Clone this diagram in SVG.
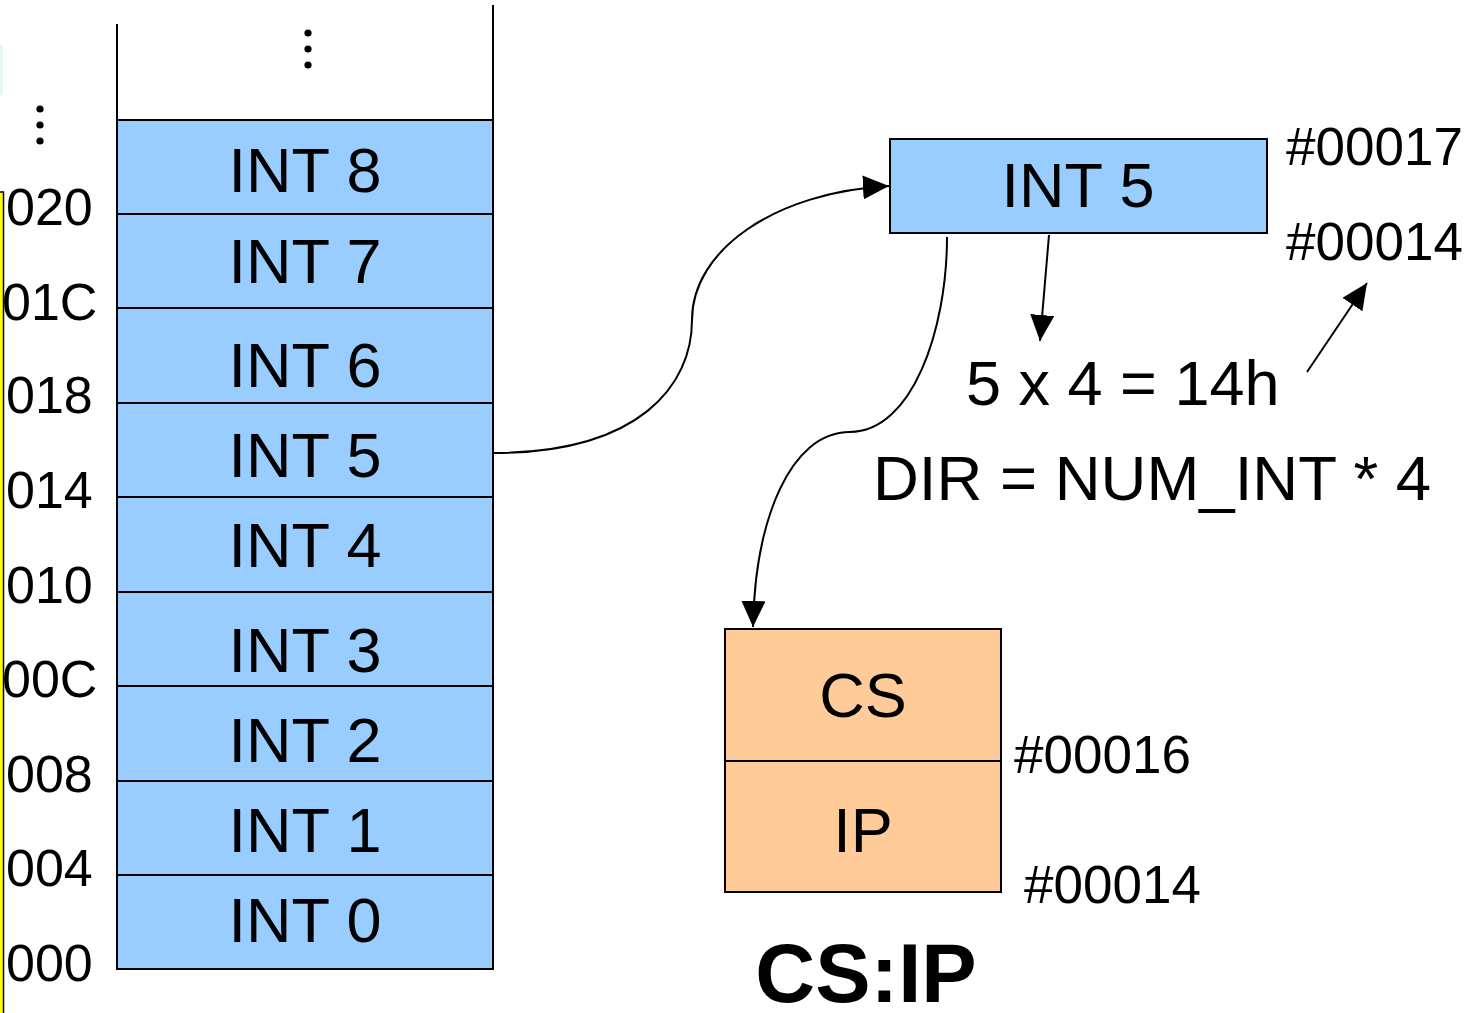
<svg xmlns="http://www.w3.org/2000/svg" width="1479" height="1013" viewBox="0 0 1479 1013">
  <defs>
    <style>
      .txt { font-family: "Liberation Sans", Arial, sans-serif; fill: #000; }
      .cell { fill: #99CCFF; stroke: #000; stroke-width: 2; }
      .reg { fill: #FFCC99; stroke: #000; stroke-width: 2; }
      .big { font-size: 63px; text-anchor: middle; }
      .addr { font-size: 52px; }
      .hex { font-size: 53px; }
      .wire { fill: none; stroke: #000; stroke-width: 2; }
    </style>
    <marker id="arrow" viewBox="0 0 26 24" refX="26" refY="12" markerWidth="26" markerHeight="24" markerUnits="userSpaceOnUse" orient="auto">
      <path d="M0,0 L26,12 L0,24 Z" fill="#000"/>
    </marker>
  </defs>

  <rect width="1479" height="1013" fill="#fff"/>

  <!-- edge strip on the left -->
  <rect x="0" y="45" width="3" height="50" fill="#eaf6f6"/>
  <rect x="-3" y="192" width="6.5" height="830" fill="#FFFF00" stroke="#000" stroke-width="1.5"/>

  <!-- address column -->
  <g id="addresses">
    <circle cx="40" cy="109" r="3.6"/>
    <circle cx="40" cy="125" r="3.6"/>
    <circle cx="40" cy="141" r="3.6"/>
    <text class="txt addr" x="6" y="225">020</text>
    <text class="txt addr" x="2" y="320">01C</text>
    <text class="txt addr" x="6" y="413">018</text>
    <text class="txt addr" x="6" y="508">014</text>
    <text class="txt addr" x="6" y="603">010</text>
    <text class="txt addr" x="2" y="697">00C</text>
    <text class="txt addr" x="6" y="792">008</text>
    <text class="txt addr" x="6" y="886">004</text>
    <text class="txt addr" x="6" y="981">000</text>
  </g>

  <!-- interrupt vector table -->
  <g id="vector-table">
    <line x1="117" y1="24" x2="117" y2="120" stroke="#000" stroke-width="2"/>
    <line x1="493" y1="5" x2="493" y2="120" stroke="#000" stroke-width="2"/>
    <circle cx="308" cy="33" r="3.6"/>
    <circle cx="308" cy="49" r="3.6"/>
    <circle cx="308" cy="65" r="3.6"/>
  </g>
  <g id="int8"><rect class="cell" x="117" y="120" width="376" height="94"/><text class="txt big" x="305" y="192">INT 8</text></g>
  <g id="int7"><rect class="cell" x="117" y="214" width="376" height="94"/><text class="txt big" x="305" y="283">INT 7</text></g>
  <g id="int6"><rect class="cell" x="117" y="308" width="376" height="95"/><text class="txt big" x="305" y="387">INT 6</text></g>
  <g id="int5"><rect class="cell" x="117" y="403" width="376" height="94"/><text class="txt big" x="305" y="477">INT 5</text></g>
  <g id="int4"><rect class="cell" x="117" y="497" width="376" height="95"/><text class="txt big" x="305" y="567">INT 4</text></g>
  <g id="int3"><rect class="cell" x="117" y="592" width="376" height="94"/><text class="txt big" x="305" y="672">INT 3</text></g>
  <g id="int2"><rect class="cell" x="117" y="686" width="376" height="95"/><text class="txt big" x="305" y="762">INT 2</text></g>
  <g id="int1"><rect class="cell" x="117" y="781" width="376" height="94"/><text class="txt big" x="305" y="852">INT 1</text></g>
  <g id="int0"><rect class="cell" x="117" y="875" width="376" height="94"/><text class="txt big" x="305" y="942">INT 0</text></g>

  <!-- selected entry -->
  <g id="int5-entry">
    <rect class="cell" x="890" y="139" width="377" height="94"/>
    <text class="txt big" x="1078" y="207">INT 5</text>
    <text class="txt hex" x="1286" y="165">#00017</text>
    <text class="txt hex" x="1286" y="260">#00014</text>
  </g>

  <!-- address computation -->
  <g id="formula">
    <text class="txt" x="966" y="405" font-size="63">5 x 4 = 14h</text>
    <text class="txt" x="873" y="500" font-size="63.5">DIR = NUM_INT * 4</text>
  </g>

  <!-- CS:IP pair -->
  <g id="cs-ip">
    <rect class="reg" x="725" y="629" width="276" height="132"/>
    <rect class="reg" x="725" y="761" width="276" height="131"/>
    <text class="txt big" x="863" y="717">CS</text>
    <text class="txt big" x="863" y="852">IP</text>
    <text class="txt hex" x="1014" y="773">#00016</text>
    <text class="txt hex" x="1024" y="903">#00014</text>
    <text class="txt" x="866" y="1002" font-size="83" font-weight="bold" text-anchor="middle">CS:IP</text>
  </g>

  <!-- connectors -->
  <g id="connectors">
    <path class="wire" d="M493,453 C640,453 692,385 692,320 C692,250 775,192 889,186" marker-end="url(#arrow)"/>
    <path class="wire" d="M1049,235 L1040,341" marker-end="url(#arrow)"/>
    <path class="wire" d="M1307,372 L1367,283" marker-end="url(#arrow)"/>
    <path class="wire" d="M947,237 C947,330 912,432 850,432 C790,432 755,520 753,627" marker-end="url(#arrow)"/>
  </g>
</svg>
